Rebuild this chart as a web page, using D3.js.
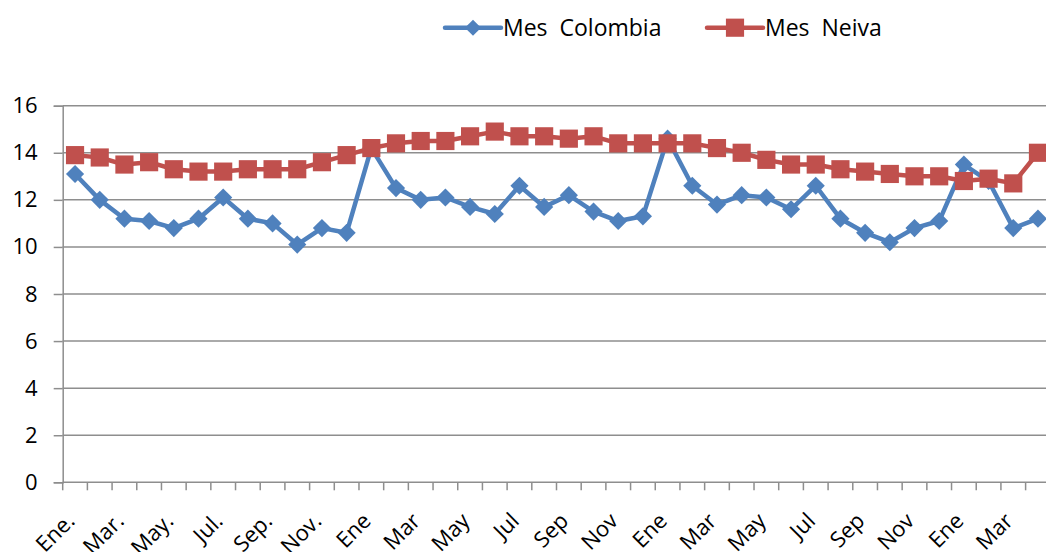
<!DOCTYPE html>
<html>
<head>
<meta charset="utf-8">
<script src="https://cdn.jsdelivr.net/npm/d3@7"></script>
<style>
  html, body { margin: 0; padding: 0; background: #fff; }
  svg { display: block; font-family: "Open Sans", "Liberation Sans", sans-serif; }
  .leg { white-space: pre; }
</style>
</head>
<body>
<svg id="chart" width="1046" height="552"></svg>
<script>
// ---- data ----
const months = [
  "Ene.","Feb.","Mar.","Abr.","May.","Jun.","Jul.","Ago.","Sep.","Oct.","Nov.","Dic.",
  "Ene","Feb","Mar","Abr","May","Jun","Jul","Ago","Sep","Oct","Nov","Dic",
  "Ene","Feb","Mar","Abr","May","Jun","Jul","Ago","Sep","Oct","Nov","Dic",
  "Ene","Feb","Mar","Abr"
];
const mesColombia = [
  13.1, 12.0, 11.2, 11.1, 10.8, 11.2, 12.1, 11.2, 11.0, 10.1, 10.8, 10.6,
  14.2, 12.5, 12.0, 12.1, 11.7, 11.4, 12.6, 11.7, 12.2, 11.5, 11.1, 11.3,
  14.6, 12.6, 11.8, 12.2, 12.1, 11.6, 12.6, 11.2, 10.6, 10.2, 10.8, 11.1,
  13.5, 12.8, 10.8, 11.2
];
const mesNeiva = [
  13.9, 13.8, 13.5, 13.6, 13.3, 13.2, 13.2, 13.3, 13.3, 13.3, 13.6, 13.9,
  14.2, 14.4, 14.5, 14.5, 14.7, 14.9, 14.7, 14.7, 14.6, 14.7, 14.4, 14.4,
  14.4, 14.4, 14.2, 14.0, 13.7, 13.5, 13.5, 13.3, 13.2, 13.1, 13.0, 13.0,
  12.8, 12.9, 12.7, 14.0
];
const yTicks = [0, 2, 4, 6, 8, 10, 12, 14, 16];
const seriesNames = ["Mes  Colombia", "Mes  Neiva"];

// ---- layout ----
const svg = d3.select("#chart");
const x0 = 62.7, bandW = 24.69;
const yBottom = 482.3, yTop = 105.7;
const colors = ["#4F81BD", "#C0504D"];
const gridColor = "#8E8E8E";

const idx = months.map((d, i) => i);
const x = d3.scaleBand().domain(idx).range([x0, x0 + bandW * months.length]).padding(0);
const y = d3.scaleLinear().domain([0, 16]).range([yBottom, yTop]);

// gridlines
svg.append("g").selectAll("line").data(yTicks.filter(t => t > 0)).join("line")
  .attr("x1", x0).attr("x2", 1046)
  .attr("y1", d => y(d)).attr("y2", d => y(d))
  .attr("stroke", gridColor).attr("stroke-width", 1.5);

// y axis
const yAxis = svg.append("g").attr("transform", `translate(${x0},0)`)
  .call(d3.axisLeft(y).tickValues(yTicks).tickSize(9).tickPadding(16).tickFormat(d3.format("d")));
yAxis.select(".domain").attr("stroke", gridColor).attr("stroke-width", 1.5);
yAxis.selectAll(".tick line").attr("stroke", gridColor).attr("stroke-width", 1.5);
yAxis.selectAll(".tick text").attr("font-size", 22).attr("fill", "#000")
  .attr("font-family", "'Open Sans', sans-serif");

// x axis baseline
svg.append("line").attr("x1", x0).attr("x2", 1046).attr("y1", yBottom).attr("y2", yBottom)
  .attr("stroke", gridColor).attr("stroke-width", 1.5);

// x tick marks at band boundaries
svg.append("g").selectAll("line").data(idx).join("line")
  .attr("x1", d => x(d)).attr("x2", d => x(d))
  .attr("y1", yBottom).attr("y2", yBottom + 8)
  .attr("stroke", gridColor).attr("stroke-width", 1.5);

// x labels (every other month)
const xAxis = svg.append("g").attr("transform", `translate(0,${yBottom})`)
  .call(d3.axisBottom(x).tickSize(0).tickValues(idx.filter(i => i % 2 === 0)).tickFormat(i => months[i]));
xAxis.select(".domain").remove();
xAxis.selectAll(".tick text")
  .attr("font-size", 22).attr("fill", "#000")
  .attr("font-family", "'Open Sans', sans-serif")
  .attr("text-anchor", "end")
  .attr("y", 0).attr("dy", 0)
  .attr("transform", "translate(1,40) rotate(-45)");

// series
const series = [mesColombia, mesNeiva];
const line = d3.line().x((d, i) => x(i) + x.bandwidth() / 2).y(d => y(d));
const diamond = d3.symbol().type(d3.symbolSquare).size(165);
const square = d3.symbol().type(d3.symbolSquare).size(330);

series.forEach((vals, s) => {
  const g = svg.append("g");
  g.append("path").datum(vals).attr("d", line)
    .attr("fill", "none").attr("stroke", colors[s]).attr("stroke-width", 4.5)
    .attr("stroke-linejoin", "round");
  g.selectAll("path.m").data(vals).join("path").attr("class", "m")
    .attr("d", s === 0 ? diamond : square)
    .attr("transform", (d, i) => `translate(${x(i) + x.bandwidth() / 2},${y(d)})` + (s === 0 ? " rotate(45)" : ""))
    .attr("fill", colors[s]);
});

// legend
const legX = [445, 707];
const legY = 27.7;
seriesNames.forEach((name, s) => {
  const g = svg.append("g").attr("transform", `translate(${legX[s]},${legY})`);
  g.append("line").attr("x1", 0).attr("x2", 56).attr("y1", 0).attr("y2", 0)
    .attr("stroke", colors[s]).attr("stroke-width", 4.5).attr("stroke-linecap", "round");
  g.append("path").attr("d", s === 0 ? d3.symbol().type(d3.symbolSquare).size(130)() : d3.symbol().type(d3.symbolSquare).size(330)())
    .attr("transform", `translate(28,0)` + (s === 0 ? " rotate(45)" : ""))
    .attr("fill", colors[s]);
  g.append("text").attr("class", "leg").attr("x", 58).attr("y", 8.5)
    .attr("font-size", 23).attr("fill", "#000").text(name);
});
</script>
</body>
</html>
